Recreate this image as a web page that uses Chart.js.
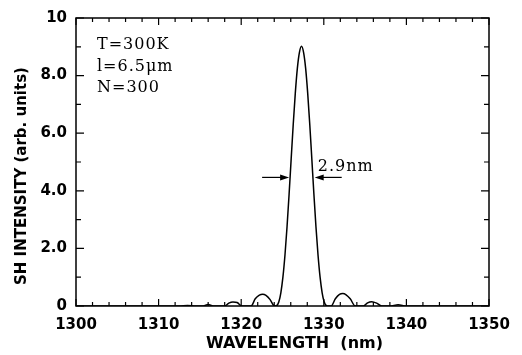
<!DOCTYPE html>
<html>
<head>
<meta charset="utf-8">
<script src="https://cdn.jsdelivr.net/npm/chart.js@4/dist/chart.umd.min.js"></script>
<style>
  html, body { margin: 0; padding: 0; background: #fff; }
  #box { width: 522px; height: 355px; }
</style>
</head>
<body>
<div id="box"><canvas id="grafico" width="522" height="355"></canvas></div>
<script>
// valores
const wavelength = [
  1300, 1310, 1312.5, 1313.5, 1314.5, 1315.4, 1316.0, 1316.6, 1318.0, 1318.5,
  1319.0, 1319.5, 1320.1, 1321.2, 1321.7, 1322.2, 1322.6, 1323.0, 1323.5, 1323.9,
  1324.2, 1324.55, 1324.8, 1325.05, 1325.3, 1325.55, 1325.8, 1326.05, 1326.3, 1326.55,
  1326.8, 1327.05, 1327.3, 1327.55, 1327.8, 1328.05, 1328.3, 1328.55, 1328.8, 1329.05,
  1329.3, 1329.55, 1329.8, 1330.05, 1330.4, 1330.9, 1331.4, 1331.9, 1332.3, 1332.7,
  1333.2, 1333.8, 1334.8, 1335.3, 1335.8, 1336.4, 1337.0, 1338.0, 1339.0, 1340.0,
  1350
];
const intensity = [
  0, 0, 0, 0.02, 0, 0, 0.05, 0, 0, 0.10,
  0.14, 0.12, 0, 0, 0.25, 0.38, 0.41, 0.37, 0.22, 0.03,
  0, 0.14, 0.46, 1.00, 1.77, 2.75, 3.89, 5.11, 6.31, 7.39,
  8.26, 8.81, 9.02, 8.81, 8.26, 7.39, 6.31, 5.11, 3.89, 2.75,
  1.77, 1.00, 0.46, 0.14, 0, 0, 0.25, 0.40, 0.43, 0.39,
  0.25, 0, 0, 0.11, 0.15, 0.10, 0, 0, 0.04, 0,
  0
];
const yTickLabels = ['0', '2.0', '4.0', '6.0', '8.0', '10'];
const infoLines = ['T=300K', 'l=6.5\u03bcm', 'N=300'];
const fwhmLabel = '2.9nm';
const fwhmLeft = 1325.8;   // ponta da seta esquerda
const fwhmRight = 1328.9;  // ponta da seta direita
const fwhmLevel = 4.5;

const sans = 'DejaVu Sans';
const serif = 'DejaVu Serif';

function seta(ctx, xTail, xTip, y) {
  const dir = xTip > xTail ? 1 : -1;
  ctx.beginPath();
  ctx.moveTo(xTail, y);
  ctx.lineTo(xTip - dir * 6, y);
  ctx.stroke();
  ctx.beginPath();
  ctx.moveTo(xTip, y);
  ctx.lineTo(xTip - dir * 9, y - 3);
  ctx.lineTo(xTip - dir * 9, y + 3);
  ctx.closePath();
  ctx.fill();
}

// moldura, marcas internas, anotacoes e titulos dos eixos
const moldura = {
  id: 'moldura',
  afterDraw(chart) {
    const ctx = chart.ctx;
    const a = chart.chartArea;
    const xs = chart.scales.x, ys = chart.scales.y;
    ctx.save();
    ctx.strokeStyle = '#000';
    ctx.fillStyle = '#000';
    ctx.lineWidth = 1.5;
    ctx.strokeRect(a.left, a.top, a.right - a.left, a.bottom - a.top);

    ctx.lineWidth = 1.2;
    ctx.beginPath();
    for (let v = 1300; v <= 1350; v += 2) {
      const px = xs.getPixelForValue(v);
      const len = v % 10 === 0 ? 7 : 4;
      ctx.moveTo(px, a.bottom); ctx.lineTo(px, a.bottom - len);
      ctx.moveTo(px, a.top); ctx.lineTo(px, a.top + len);
    }
    for (let v = 0; v <= 10; v += 1) {
      const py = ys.getPixelForValue(v);
      const len = v % 2 === 0 ? 8 : 5;
      ctx.moveTo(a.left, py); ctx.lineTo(a.left + len, py);
      ctx.moveTo(a.right, py); ctx.lineTo(a.right - len, py);
    }
    ctx.stroke();

    // texto dos parametros
    ctx.font = '16px "' + serif + '"';
    ctx.letterSpacing = '1px';
    ctx.textAlign = 'left';
    ctx.textBaseline = 'alphabetic';
    infoLines.forEach((t, i) => {
      ctx.fillText(t, a.left + 21, a.top + 31 + i * 21.5);
    });

    // largura a meia altura
    const yHalf = ys.getPixelForValue(fwhmLevel);
    const xl = xs.getPixelForValue(fwhmLeft);
    const xr = xs.getPixelForValue(fwhmRight);
    ctx.lineWidth = 1.2;
    seta(ctx, xl - 27, xl, yHalf + 1);
    seta(ctx, xr + 27, xr, yHalf + 1);
    ctx.fillText(fwhmLabel, xr + 3, yHalf - 5);
    ctx.letterSpacing = '0px';

    // titulos dos eixos
    ctx.font = 'bold 16px "' + sans + '"';
    ctx.textAlign = 'center';
    ctx.fillText('WAVELENGTH  (nm)', (a.left + a.right) / 2 + 12, chart.height - 7);

    ctx.save();
    ctx.translate(26, (a.top + a.bottom) / 2 + 14);
    ctx.rotate(-Math.PI / 2);
    ctx.font = 'bold 15px "' + sans + '"';
    ctx.fillText('SH INTENSITY (arb. units)', 0, 0);
    ctx.restore();

    ctx.restore();
  }
};

const ctx = document.getElementById('grafico').getContext('2d');
new Chart(ctx, {
  type: 'line',
  data: {
    datasets: [{
      data: wavelength.map((w, i) => ({ x: w, y: intensity[i] })),
      borderColor: '#000',
      borderWidth: 1.5,
      pointRadius: 0,
      fill: false,
      cubicInterpolationMode: 'monotone'
    }]
  },
  options: {
    responsive: false,
    animation: false,
    layout: { padding: { top: 14, right: 33, left: 0, bottom: 0 } },
    plugins: {
      legend: { display: false },
      tooltip: { enabled: false }
    },
    scales: {
      x: {
        type: 'linear',
        min: 1300,
        max: 1350,
        grid: { display: false, drawTicks: false },
        border: { display: false },
        ticks: {
          stepSize: 10,
          maxRotation: 0,
          padding: 10,
          color: '#000',
          font: { family: sans, size: 15, weight: 'bold' },
          callback: (v) => String(v)
        },
        afterFit(scale) { scale.height = 49; }
      },
      y: {
        min: 0,
        max: 10,
        grid: { display: false, drawTicks: false },
        border: { display: false },
        ticks: {
          stepSize: 2,
          padding: 9,
          color: '#000',
          font: { family: sans, size: 15, weight: 'bold' },
          callback: (v) => yTickLabels[v / 2]
        },
        afterFit(scale) { scale.width = 76; }
      }
    }
  },
  plugins: [moldura]
});
</script>
</body>
</html>
